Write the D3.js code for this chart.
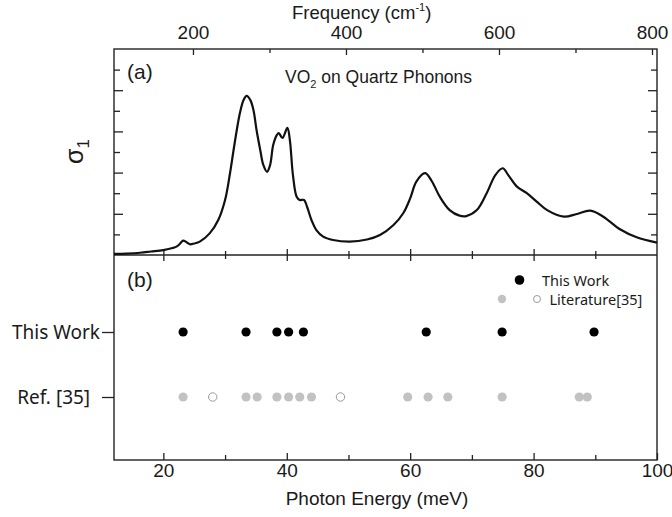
<!DOCTYPE html>
<html>
<head>
<meta charset="utf-8">
<script src="https://cdn.jsdelivr.net/npm/d3@7"></script>
<style>
  html, body { margin: 0; padding: 0; background: #fff; }
  svg { display: block; }
  text { font-family: "Liberation Sans", Arial, sans-serif; fill: #1a1a1a; }
  .sans2 { font-family: "Noto Sans", "Open Sans", sans-serif; }
  .domain, .tick line { stroke: #222; }
</style>
</head>
<body>
<svg id="chart" width="672" height="517"></svg>
<script>
// Optical conductivity of VO2 on quartz (arbitrary units) vs photon energy (meV)
const energy = [12, 14, 16.2, 18, 20, 21.5, 22.2, 22.8, 23.2, 23.7, 24.3, 25, 25.9, 27.5,
  28.9, 30.0, 30.8, 31.3, 31.9, 32.4, 33.0, 33.5, 34.1, 34.6, 35.1, 35.7, 36.2, 36.8,
  37.3, 37.8, 38.4, 38.7, 39.3, 40.1, 40.5, 41.0, 41.6, 42.1, 42.8, 43.3, 44.0, 44.8,
  45.9, 47.5, 50.2, 53.0, 55.1, 57.3, 58.9, 60.0, 61.0, 62.4, 63.4, 64.8, 66.4, 68.0,
  69.1, 70.8, 72.4, 73.8, 75.0, 75.9, 77.3, 78.9, 80.5, 82.2, 84.9, 87.0, 89.2, 91.3,
  94.0, 96.7, 100];
const sigma = [0.05, 0.07, 0.11, 0.17, 0.24, 0.34, 0.42, 0.58, 0.70, 0.63, 0.52, 0.56, 0.65, 1.05,
  1.70, 2.67, 3.97, 4.94, 6.07, 6.88, 7.52, 7.72, 7.52, 7.04, 6.07, 5.10, 4.37, 4.04,
  4.37, 5.34, 5.83, 5.92, 5.68, 6.17, 5.58, 3.88, 2.83, 2.67, 2.67, 2.33, 1.70, 1.21,
  0.89, 0.73, 0.65, 0.75, 0.97, 1.46, 2.04, 2.75, 3.56, 3.97, 3.64, 2.83, 2.18, 1.91,
  1.89, 2.18, 3.00, 3.88, 4.21, 3.88, 3.32, 3.00, 2.59, 2.18, 1.86, 1.99, 2.15, 1.86,
  1.25, 0.86, 0.60];

// Phonon energies (meV)
const thisWork = [23.2, 33.4, 38.4, 40.3, 42.7, 62.6, 74.9, 89.8];
const refFilled = [23.2, 33.4, 35.2, 38.4, 40.3, 42.1, 44.0, 59.6, 62.9, 66.1, 74.9, 87.4, 88.7];
const refOpen = [28.0, 48.7];
const rowLabels = ["This Work", "Ref. [35]"];

const energyTicks = [20, 40, 60, 80, 100];
const energyMinor = [30, 50, 70, 90];
const freqTicks = [200, 400, 600, 800];
const freqMinor = [300, 500, 700];
const sigmaMajor = [2, 4, 6, 8];
const sigmaMinor = [1, 3, 5, 7, 9];
const MEV_TO_CM = 8.0655;

const L = 114, R = 657, T = 49, MID = 255, B = 460;
const svg = d3.select("#chart");

const x = d3.scaleLinear().domain([12, 100]).range([L, R]);
const freq = d3.scaleLinear().domain([12 * MEV_TO_CM, 100 * MEV_TO_CM]).range([L, R]);
const y = d3.scaleLinear().domain([0, 10]).range([MID, T]);
const row = d3.scalePoint().domain(rowLabels).range([332, 397]);

function styleAxis(g) {
  g.selectAll(".domain").remove();
  g.selectAll(".tick line").attr("stroke", "#222").attr("stroke-width", 1.3);
  g.selectAll(".tick text").attr("font-family", null).attr("fill", "#1a1a1a");
  return g;
}

// Top frequency axis
svg.append("g").attr("transform", `translate(0,${T})`)
  .call(d3.axisTop(freq).tickValues(freqTicks).tickSize(-6).tickPadding(10).tickFormat(d3.format("d")))
  .call(styleAxis).attr("font-size", 19);
svg.append("g").attr("transform", `translate(0,${T})`)
  .call(d3.axisTop(freq).tickValues(freqMinor).tickSize(-4).tickFormat(""))
  .call(styleAxis);

// Frequency title with superscript
const ft = svg.append("text").attr("x", 292).attr("y", 19).attr("font-size", 18.5);
ft.append("tspan").text("Frequency (cm");
ft.append("tspan").attr("font-size", 11).attr("dy", -8).text("-1");
ft.append("tspan").attr("dy", 8).text(")");

// Shared axis between panels: ticks crossing the line
svg.append("g").attr("transform", `translate(0,${MID})`)
  .call(d3.axisTop(x).tickValues(energyTicks.slice(0, 4)).tickSize(6).tickFormat(""))
  .call(styleAxis);
svg.append("g").attr("transform", `translate(0,${MID})`)
  .call(d3.axisBottom(x).tickValues(energyTicks.slice(0, 4)).tickSize(6).tickFormat(""))
  .call(styleAxis);
svg.append("g").attr("transform", `translate(0,${MID})`)
  .call(d3.axisTop(x).tickValues(energyMinor).tickSize(4).tickFormat(""))
  .call(styleAxis);
svg.append("g").attr("transform", `translate(0,${MID})`)
  .call(d3.axisBottom(x).tickValues(energyMinor).tickSize(4).tickFormat(""))
  .call(styleAxis);

// Left / right inward ticks of the conductivity panel
svg.append("g").attr("transform", `translate(${L},0)`)
  .call(d3.axisLeft(y).tickValues(sigmaMajor).tickSize(-9).tickFormat("")).call(styleAxis);
svg.append("g").attr("transform", `translate(${L},0)`)
  .call(d3.axisLeft(y).tickValues(sigmaMinor).tickSize(-6).tickFormat("")).call(styleAxis);
svg.append("g").attr("transform", `translate(${R},0)`)
  .call(d3.axisRight(y).tickValues(sigmaMajor).tickSize(-9).tickFormat("")).call(styleAxis);
svg.append("g").attr("transform", `translate(${R},0)`)
  .call(d3.axisRight(y).tickValues(sigmaMinor).tickSize(-6).tickFormat("")).call(styleAxis);

// Bottom energy axis
svg.append("g").attr("transform", `translate(0,${B})`)
  .call(d3.axisBottom(x).tickValues(energyTicks).tickSize(-7).tickPadding(4).tickFormat(d3.format("d")))
  .call(styleAxis).attr("font-size", 19);
svg.append("g").attr("transform", `translate(0,${B})`)
  .call(d3.axisBottom(x).tickValues(energyMinor).tickSize(-5).tickFormat(""))
  .call(styleAxis);

svg.append("text").attr("x", 377).attr("y", 505).attr("text-anchor", "middle")
  .attr("font-size", 19).text("Photon Energy (meV)");

// Row axis of the phonon panel
const rowAxis = svg.append("g").attr("transform", `translate(${L},0)`)
  .call(d3.axisLeft(row).tickSize(12).tickPadding(2)
    .tickFormat(d => d === "Ref. [35]" ? d + "\u00a0\u00a0" : d))
  .call(styleAxis);
rowAxis.selectAll(".tick text").attr("class", "sans2").attr("font-size", 19);

// Frames
svg.append("rect").attr("x", L).attr("y", T).attr("width", R - L).attr("height", B - T)
  .attr("fill", "none").attr("stroke", "#222").attr("stroke-width", 1.4);
svg.append("line").attr("x1", L).attr("x2", R).attr("y1", MID).attr("y2", MID)
  .attr("stroke", "#222").attr("stroke-width", 1.4);

// Conductivity curve
const line = d3.line().x((d, i) => x(energy[i])).y(d => y(d)).curve(d3.curveCatmullRom.alpha(0.5));
svg.append("path").datum(sigma).attr("d", line)
  .attr("fill", "none").attr("stroke", "#111").attr("stroke-width", 2.2).attr("stroke-linejoin", "round");

// Panel annotations
svg.append("text").attr("x", 127).attr("y", 79).attr("font-size", 21).text("(a)");
svg.append("text").attr("x", 127).attr("y", 287).attr("font-size", 21).text("(b)");
const vt = svg.append("text").attr("x", 285).attr("y", 83).attr("font-size", 17.5);
vt.append("tspan").text("VO");
vt.append("tspan").attr("font-size", 11).attr("dy", 5).text("2");
vt.append("tspan").attr("dy", -5).text(" on Quartz Phonons");

// Rotated sigma_1 label
const sl = svg.append("text").attr("transform", "translate(83,164) rotate(-90)").attr("font-size", 25);
sl.append("tspan").text("σ");
sl.append("tspan").attr("font-size", 17).attr("dy", 6).text("1");

// Phonon markers
const gray = "#c2c2c2";
svg.append("g").selectAll("circle").data(refFilled).join("circle")
  .attr("cx", d => x(d)).attr("cy", row("Ref. [35]")).attr("r", 4.6).attr("fill", gray);
svg.append("g").selectAll("circle").data(refOpen).join("circle")
  .attr("cx", d => x(d)).attr("cy", row("Ref. [35]")).attr("r", 4.2)
  .attr("fill", "#fff").attr("stroke", "#9a9a9a").attr("stroke-width", 1);
svg.append("g").selectAll("circle").data(thisWork).join("circle")
  .attr("cx", d => x(d)).attr("cy", row("This Work")).attr("r", 4.6).attr("fill", "#000");

// Legend
const lg = svg.append("g");
lg.append("circle").attr("cx", 519.5).attr("cy", 280).attr("r", 4.8).attr("fill", "#000");
lg.append("text").attr("class", "sans2").attr("x", 542).attr("y", 285.5).attr("font-size", 14.5).text("This Work");
lg.append("circle").attr("cx", 502).attr("cy", 299).attr("r", 4.2).attr("fill", gray);
lg.append("circle").attr("cx", 537).attr("cy", 299).attr("r", 3.5)
  .attr("fill", "#fff").attr("stroke", "#9a9a9a").attr("stroke-width", 1);
lg.append("text").attr("class", "sans2").attr("x", 549.5).attr("y", 304.5).attr("font-size", 14.5).text("Literature[35]");
</script>
</body>
</html>
